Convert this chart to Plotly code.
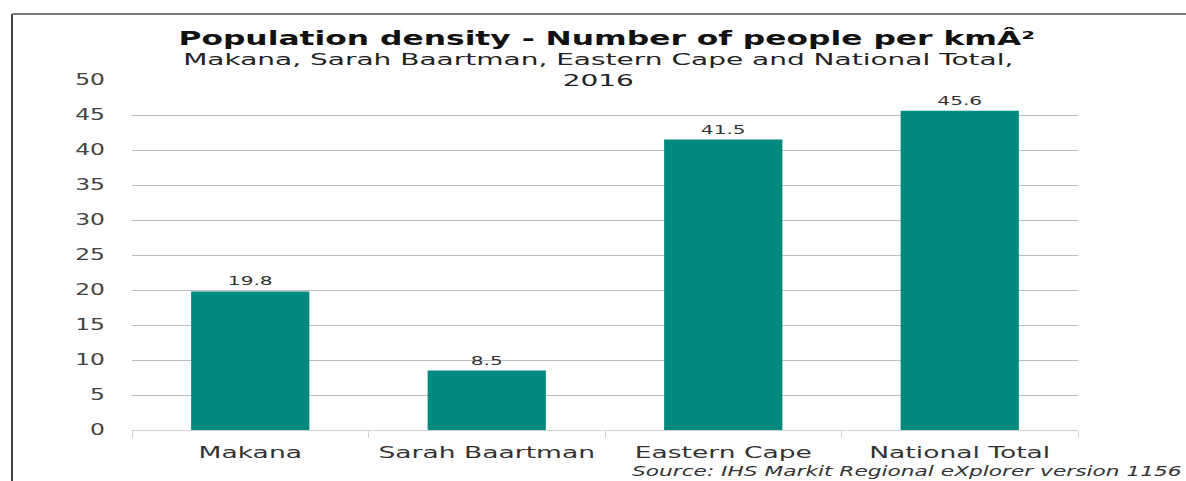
import json
import plotly.graph_objects as go

# Population density per area, 2016
categories = ["Makana", "Sarah Baartman", "Eastern Cape", "National Total"]
density = [19.8, 8.5, 41.5, 45.6]
y_ticks = [0, 5, 10, 15, 20, 25, 30, 35, 40, 45, 50]

W, H = 1186, 481
L, R, T, B = 132, 108, 80, 51
PW, PH = W - L - R, H - T - B


def px_x(x):
    return (x - L) / PW


def px_y(y):
    return (H - B - y) / PH


FONT = "DejaVu Sans, Verdana, sans-serif"
BAR = "#00897f"

fig = go.Figure(
    go.Bar(
        x=categories,
        y=density,
        marker=dict(color=BAR, line=dict(width=0)),
        text=[f"{v:.1f}" for v in density],
        textposition="outside",
        textfont=dict(family=FONT, size=13, color="#333333"),
        cliponaxis=False,
        width=0.5,
    )
)

fig.update_layout(
    width=W,
    height=H,
    margin=dict(l=L, r=R, t=T, b=B),
    paper_bgcolor="white",
    plot_bgcolor="white",
    showlegend=False,
    font=dict(family=FONT),
    xaxis=dict(
        showgrid=False,
        showline=True,
        linecolor="#d0d0d0",
        linewidth=1,
        ticks="outside",
        tickson="boundaries",
        ticklen=7,
        tickcolor="#d0d0d0",
        ticklabelstandoff=8,
        tickfont=dict(family=FONT, size=16, color="#333333"),
    ),
    yaxis=dict(
        range=[0, 50],
        tickvals=y_ticks,
        showgrid=True,
        gridcolor="#bdbdbd",
        gridwidth=1,
        zeroline=False,
        showline=False,
        ticks="",
        ticklabelstandoff=26,
        tickfont=dict(family=FONT, size=15, color="#444444"),
    ),
    annotations=[
        dict(
            text="<b>Population density - Number of people per kmÂ²</b>",
            x=px_x(606), y=px_y(38), xref="paper", yref="paper",
            xanchor="center", yanchor="middle", showarrow=False,
            font=dict(family=FONT, size=19, color="#111111"),
        ),
        dict(
            text="Makana, Sarah Baartman, Eastern Cape and National Total,<br>2016",
            x=px_x(598), y=px_y(70), xref="paper", yref="paper",
            xanchor="center", yanchor="middle", showarrow=False,
            font=dict(family=FONT, size=16, color="#222222"),
        ),
        dict(
            text="<i>Source: IHS Markit Regional eXplorer version 1156</i>",
            x=px_x(1184), y=px_y(H), xref="paper", yref="paper",
            xanchor="right", yanchor="bottom", showarrow=False,
            font=dict(family=FONT, size=14, color="#333333"),
        ),
    ],
    shapes=[
        # document frame: left edge and top rule
        dict(type="line", xref="paper", yref="paper",
             x0=px_x(12), x1=px_x(12), y0=px_y(14), y1=px_y(H + 5),
             line=dict(color="#444444", width=2)),
        dict(type="line", xref="paper", yref="paper",
             x0=px_x(12), x1=px_x(W + 5), y0=px_y(14), y1=px_y(14),
             line=dict(color="#777777", width=2)),
    ],
)

# Wide horizontal lettering: each text group is widened about its anchor.
# (selector, horizontal factor, anchor: start / middle / end)
stretch_rules = [
    ('.annotation[data-index="0"] text', 1.65, "middle"),
    ('.annotation[data-index="1"] text', 1.75, "middle"),
    ('.annotation[data-index="2"] text', 1.55, "end"),
    (".xtick text", 1.66, "middle"),
    (".ytick text", 1.56, "end"),
    (".bars .point text", 1.55, "middle"),
]

post_js = """
var gd = document.getElementById('{plot_id}');
var rules = %s;
rules.forEach(function (r) {
  gd.querySelectorAll(r[0]).forEach(function (el) {
    var bb = el.getBBox();
    var cx = r[2] === 'start' ? bb.x : (r[2] === 'end' ? bb.x + bb.width : bb.x + bb.width / 2);
    var s = r[1];
    var t = el.getAttribute('transform') || '';
    el.setAttribute('transform', t + ' matrix(' + s + ',0,0,1,' + (cx * (1 - s)) + ',0)');
  });
});
""" % json.dumps(stretch_rules)

fig.write_html("out.html", post_script=post_js)
